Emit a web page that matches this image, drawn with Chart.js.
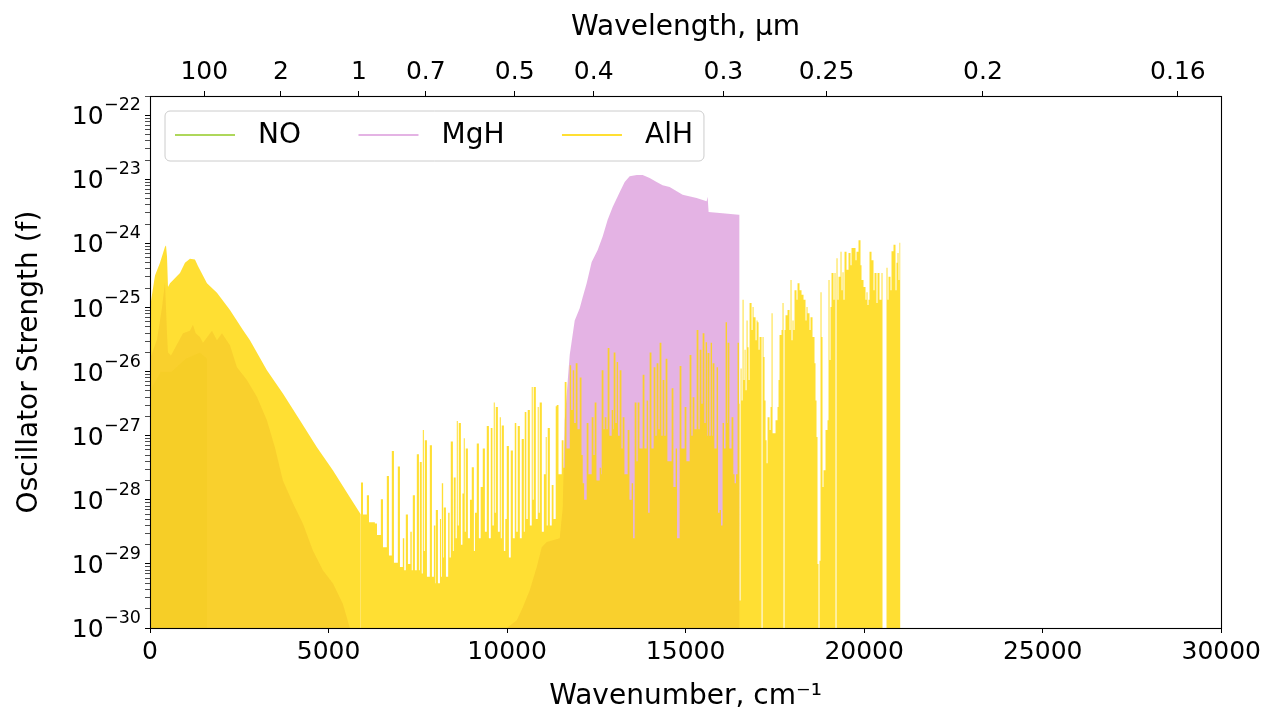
<!DOCTYPE html>
<html>
<head>
<meta charset="utf-8">
<script src="https://cdn.jsdelivr.net/npm/chart.js@4.4.1/dist/chart.umd.min.js"></script>
<style>
html,body{margin:0;padding:0;background:#fff;}
canvas{display:block;}
</style>
</head>
<body>
<canvas id="c" width="1265" height="714"></canvas>
<script>
// ---------------- data (wavenumber cm^-1, log10 of oscillator strength) ----------------
const bottomTicks = [0, 5000, 10000, 15000, 20000, 25000, 30000];
const topTickWavenumber = [1520, 3666, 5849, 7724, 10214, 12425, 16058, 18946, 23328, 28786];
const topTickLabels = ['100', '2', '1', '0.7', '0.5', '0.4', '0.3', '0.25', '0.2', '0.16'];
const yDecadeExponents = [-30, -29, -28, -27, -26, -25, -24, -23, -22];
const yMinorMultipliers = [2, 3, 4, 5, 6, 7, 8, 9];

const noPoints = [
  [0, -26.3], [300, -26.0], [600, -26.0], [1000, -25.8], [1400, -25.7], [1600, -25.8], [1600, -30]
];

const mghPoints = [
  [0, -25.8], [196, -25.5], [336, -25.0], [420, -24.6], [476, -25.4], [504, -25.7], [588, -25.75],
  [924, -25.40], [1119, -25.36], [1203, -25.27], [1280, -25.40], [1399, -25.46], [1483, -25.55],
  [1735, -25.36], [1875, -25.51], [2015, -25.40], [2239, -25.59], [2435, -25.93], [2715, -26.13],
  [2994, -26.39], [3274, -26.76], [3498, -27.18], [3722, -27.70], [4002, -28.05], [4282, -28.37],
  [4562, -28.79], [4842, -29.10], [5121, -29.30], [5401, -29.62], [5597, -30], [9991, -30],
  [10271, -29.88], [10438, -29.68], [10634, -29.41], [10830, -29.05], [10970, -28.74], [11110, -28.66],
  [11278, -28.63], [11474, -28.60], [11558, -28.12], [11614, -26.76], [11754, -25.74], [11894, -25.20],
  [12034, -25.01], [12117, -24.84], [12229, -24.62], [12369, -24.29], [12537, -24.10], [12677, -23.89],
  [12817, -23.63], [12957, -23.43], [13153, -23.20], [13293, -23.04], [13433, -22.95], [13629, -22.93],
  [13797, -22.93], [13993, -22.98], [14188, -23.04], [14356, -23.09], [14552, -23.12], [14916, -23.24],
  [15308, -23.29], [15588, -23.34], [15616, -23.27], [15644, -23.51], [16036, -23.53], [16484, -23.55],
  [16512, -23.55], [16512, -30]
];

const alhBandPoints = [
  [0, -25.0], [140, -24.5], [280, -24.3], [420, -24.05], [448, -24.03], [476, -24.2], [504, -24.68],
  [560, -24.62], [840, -24.46], [980, -24.3], [1119, -24.24], [1259, -24.25], [1343, -24.35],
  [1595, -24.62], [1875, -24.77], [2239, -25.04], [2603, -25.35], [2799, -25.51], [3274, -25.98],
  [3722, -26.34], [4198, -26.76], [4674, -27.18], [5121, -27.54], [5597, -27.96], [5905, -28.23],
  [5905, -30]
];

const alhLinePoints = [
  [5905, -27.73], [5965, -28.23], [6073, -27.93], [6133, -28.35], [6297, -28.37], [6357, -28.55],
  [6465, -27.99], [6525, -28.74], [6632, -27.63], [6692, -28.87], [6772, -27.24], [6832, -28.98],
  [6940, -27.48], [7000, -29.05], [7080, -28.6], [7120, -29.1], [7164, -28.23], [7224, -29.0],
  [7290, -28.5], [7330, -29.1], [7360, -27.93], [7420, -29.1], [7472, -27.29], [7532, -29.1],
  [7556, -27.41], [7610, -29.15], [7640, -26.91], [7670, -28.8], [7696, -27.07], [7756, -29.2],
  [7836, -27.15], [7896, -29.2], [7950, -28.4], [7990, -29.3], [8004, -28.16], [8064, -29.3],
  [8120, -28.3], [8150, -29.2], [8172, -27.74], [8210, -28.9], [8228, -28.12], [8288, -29.2],
  [8350, -28.2], [8390, -28.9], [8423, -27.09], [8483, -28.8], [8507, -27.65], [8560, -28.6],
  [8591, -26.77], [8620, -28.4], [8647, -26.80], [8707, -28.7], [8750, -27.9], [8787, -27.04],
  [8815, -28.5], [8843, -27.20], [8903, -28.6], [8960, -28.0], [9011, -27.49], [9071, -28.8],
  [9100, -28.2], [9151, -27.12], [9211, -28.6], [9260, -27.8], [9319, -27.20], [9379, -28.5],
  [9431, -26.85], [9491, -28.6], [9543, -26.88], [9590, -28.4], [9627, -26.48], [9655, -28.2],
  [9683, -26.55], [9743, -28.5], [9795, -26.71], [9825, -28.6], [9851, -26.84], [9911, -28.8],
  [9950, -28.3], [9991, -27.16], [10051, -28.9], [10103, -27.23], [10163, -28.6], [10215, -26.80],
  [10258, -28.5], [10298, -26.85], [10358, -28.6], [10410, -27.05], [10470, -28.5], [10494, -26.63],
  [10540, -28.3], [10578, -26.60], [10638, -28.4], [10690, -26.24], [10718, -28.0], [10746, -26.24],
  [10806, -28.3], [10858, -26.55], [10886, -28.2], [10914, -26.48], [10974, -28.5], [11030, -27.6],
  [11082, -27.02], [11110, -28.4], [11138, -26.88], [11198, -28.4], [11250, -27.77], [11300, -28.3],
  [11362, -26.54],
  [11390, -26.52], [11440, -27.6], [11530, -27.07], [11580, -27.5], [11614, -26.16], [11664, -27.2],
  [11754, -25.90], [11794, -26.6], [11838, -25.98], [11880, -26.8], [11922, -25.87], [11972, -26.9],
  [12034, -26.09], [12084, -27.3], [12118, -27.74], [12158, -28.0], [12229, -26.80], [12279, -27.6],
  [12369, -26.71], [12419, -27.3], [12453, -26.48], [12503, -27.7], [12593, -27.5], [12633, -27.6],
  [12649, -25.98], [12699, -26.9], [12733, -26.71], [12783, -26.9], [12817, -25.63], [12867, -27.0],
  [12929, -26.60], [12969, -26.9], [12985, -25.70], [13035, -26.8], [13069, -25.85], [13109, -27.0],
  [13153, -25.98], [13203, -27.2], [13237, -26.71], [13287, -27.6], [13377, -26.91], [13427, -28.0],
  [13489, -27.74], [13529, -28.6], [13573, -26.48], [13623, -27.4], [13657, -26.48], [13707, -27.2],
  [13797, -26.05], [13847, -27.2], [13909, -26.45], [13949, -28.2], [13993, -25.70], [14043, -27.2],
  [14104, -25.93], [14154, -27.0], [14188, -25.87], [14238, -26.9], [14272, -25.55], [14322, -27.0],
  [14356, -26.13], [14406, -27.0], [14440, -25.80], [14490, -27.4], [14608, -26.26], [14658, -27.8],
  [14720, -27.20], [14760, -28.6], [14832, -25.91], [14882, -27.2], [14972, -26.55], [15022, -27.4],
  [15112, -25.74], [15162, -27.0], [15196, -26.40], [15246, -26.9], [15308, -25.35], [15358, -26.9],
  [15392, -25.66], [15442, -26.5], [15476, -25.40], [15526, -26.8], [15560, -25.54], [15600, -27.0],
  [15616, -25.71], [15666, -27.0], [15700, -25.55], [15740, -27.0], [15756, -25.87], [15806, -27.2],
  [15868, -25.93], [15908, -28.2], [15951, -28.16], [15991, -28.4], [16035, -26.80], [16075, -27.2],
  [16119, -25.23], [16159, -26.8], [16175, -25.55], [16225, -27.2], [16287, -26.71], [16337, -27.6],
  [16371, -27.74], [16411, -27.6], [16455, -25.55], [16495, -26.5],
  [16511, -29.57], [16539, -25.95], [16567, -26.45], [16595, -24.88], [16623, -26.13], [16651, -25.66],
  [16679, -26.29], [16707, -25.20], [16735, -25.62], [16763, -26.13], [16791, -24.93], [16847, -25.35],
  [16875, -24.99], [16903, -25.15], [16959, -25.51], [16987, -25.20], [17015, -25.23], [17043, -25.66],
  [17071, -25.46], [17127, -30], [17155, -25.46], [17183, -25.77], [17211, -26.45], [17239, -27.07],
  [17267, -27.43], [17295, -26.71], [17351, -26.91], [17379, -26.55], [17407, -25.09], [17435, -26.96],
  [17463, -26.96], [17518, -26.76], [17546, -26.76], [17574, -26.55], [17602, -26.13], [17630, -25.43],
  [17686, -25.35], [17714, -24.93], [17742, -30], [17770, -25.35], [17798, -25.12], [17854, -25.04],
  [17910, -25.35], [17938, -24.57], [17966, -25.51], [17994, -25.20], [18022, -25.35], [18050, -24.73],
  [18106, -24.88], [18134, -24.62], [18190, -24.73], [18246, -24.80], [18302, -24.88], [18358, -25.20],
  [18386, -24.99], [18414, -25.09], [18470, -25.35], [18498, -25.15], [18554, -25.46], [18610, -25.87],
  [18638, -26.45], [18666, -27.02], [18694, -29.0], [18722, -30], [18750, -28.95], [18778, -24.76],
  [18806, -25.46], [18834, -27.80], [18862, -27.54], [18918, -26.91], [18974, -26.76], [19002, -24.57],
  [19030, -25.82], [19058, -24.99], [19086, -24.46], [19142, -24.88], [19170, -24.46], [19198, -30],
  [19226, -24.23], [19254, -24.88], [19282, -24.52], [19338, -24.13], [19366, -24.73], [19394, -24.45],
  [19422, -24.88], [19450, -24.13], [19506, -24.41], [19562, -24.15], [19618, -24.34], [19646, -24.07],
  [19702, -24.07], [19758, -24.26], [19786, -24.13], [19842, -23.95], [19898, -24.34], [19926, -24.57],
  [19982, -24.68], [20038, -24.88], [20066, -24.76], [20094, -24.96], [20122, -24.88], [20150, -24.13],
  [20206, -24.26], [20262, -24.73], [20290, -24.46], [20346, -24.93], [20374, -24.46], [20430, -24.88],
  [20486, -24.46], [20514, -30], [20598, -30], [20626, -24.38], [20654, -24.88], [20682, -24.52],
  [20738, -24.73], [20766, -24.12], [20822, -24.02], [20878, -24.73], [20906, -24.30], [20934, -24.15],
  [20962, -24.57], [20989, -23.99], [21017, -30]
];

// ---------------- chart ----------------
const FONT = '"DejaVu Sans", "Liberation Sans", sans-serif';
Chart.defaults.font.family = FONT;
Chart.defaults.color = '#000';

const colNO = 'rgba(154,205,50,0.8)';
const colMgH = 'rgba(221,160,221,0.8)';
const colAlH = 'rgba(255,215,0,0.8)';

const toPts = arr => arr.map(p => ({x: p[0], y: Math.pow(10, p[1])}));
const isDecade = v => { const l = Math.log10(v); return Math.abs(l - Math.round(l)) < 1e-6; };

const yTickValues = [];
yDecadeExponents.forEach(e => {
  yTickValues.push(Number('1e' + e));
  if (e < -22) yMinorMultipliers.forEach(m => yTickValues.push(Number(m + 'e' + e)));
});
yTickValues.push(Number('2e-22'));

const baseDs = {
  type: 'line', borderWidth: 0, borderColor: 'rgba(0,0,0,0)', pointRadius: 0,
  pointHoverRadius: 0, fill: 'start', tension: 0
};

const framePlugin = {
  id: 'frame',
  afterDatasetsDraw(chart) {
    const {ctx, chartArea: a} = chart;
    ctx.save();
    ctx.strokeStyle = '#000';
    ctx.lineWidth = 1.1;
    ctx.strokeRect(Math.round(a.left) + 0.5, Math.round(a.top) + 0.5,
      Math.round(a.right) - Math.round(a.left), Math.round(a.bottom) - Math.round(a.top));
    ctx.restore();
  }
};

// power-of-ten tick labels (base + superscript exponent), placed with the y scale
const powerLabels = {
  id: 'powerLabels',
  afterDraw(chart) {
    const s = chart.scales.y;
    const ctx = chart.ctx;
    ctx.save();
    ctx.fillStyle = '#000';
    ctx.textBaseline = 'alphabetic';
    ctx.textAlign = 'right';
    yDecadeExponents.forEach(e => {
      const y = s.getPixelForValue(Number('1e' + e));
      const expTxt = '\u2212' + String(-e);
      const xr = s.right - 9;
      ctx.font = '17.5px ' + FONT;
      ctx.fillText(expTxt, xr, y - 5);
      const w = ctx.measureText(expTxt).width;
      ctx.font = '25px ' + FONT;
      ctx.fillText('10', xr - w - 0.5, y + 9);
    });
    ctx.restore();
  }
};

const boxLegend = {
  id: 'boxLegend',
  afterDraw(chart) {
    const ctx = chart.ctx;
    const items = chart.data.datasets.filter(d => d.inLegend);
    ctx.save();
    ctx.font = '28px ' + FONT;
    const top = 111, h = 50, left = 165;
    const handle = 60, pad = 23, gap = 57.5;
    let x = 175;
    const xs = [];
    items.forEach(it => { xs.push(x); x += handle + pad + ctx.measureText(it.label).width + gap; });
    const right = x - gap + 11;
    const r = 5;
    ctx.beginPath();
    ctx.moveTo(left + r, top);
    ctx.lineTo(right - r, top);
    ctx.arcTo(right, top, right, top + r, r);
    ctx.lineTo(right, top + h - r);
    ctx.arcTo(right, top + h, right - r, top + h, r);
    ctx.lineTo(left + r, top + h);
    ctx.arcTo(left, top + h, left, top + h - r, r);
    ctx.lineTo(left, top + r);
    ctx.arcTo(left, top, left + r, top, r);
    ctx.closePath();
    ctx.fillStyle = 'rgba(255,255,255,0.8)';
    ctx.fill();
    ctx.strokeStyle = '#cccccc';
    ctx.lineWidth = 1;
    ctx.stroke();
    const cy = top + h / 2 - 1;
    items.forEach((it, i) => {
      ctx.strokeStyle = it.legendColor;
      ctx.lineWidth = 2.2;
      ctx.beginPath();
      ctx.moveTo(xs[i], cy);
      ctx.lineTo(xs[i] + handle, cy);
      ctx.stroke();
      ctx.fillStyle = '#000';
      ctx.textBaseline = 'middle';
      ctx.textAlign = 'left';
      ctx.fillText(it.label, xs[i] + handle + pad, cy + 1);
    });
    ctx.restore();
  }
};

new Chart(document.getElementById('c'), {
  type: 'line',
  data: {
    datasets: [
      Object.assign({}, baseDs, {label: 'NO', data: toPts(noPoints), backgroundColor: colNO, order: 4, inLegend: true, legendColor: colNO}),
      Object.assign({}, baseDs, {label: 'MgH', data: toPts(mghPoints), backgroundColor: colMgH, order: 3, inLegend: true, legendColor: colMgH}),
      Object.assign({}, baseDs, {label: 'AlH', data: toPts(alhBandPoints), backgroundColor: colAlH, order: 2, inLegend: true, legendColor: colAlH}),
      Object.assign({}, baseDs, {label: 'AlH lines', data: toPts(alhLinePoints), backgroundColor: colAlH, order: 1, stepped: true})
    ]
  },
  options: {
    responsive: false,
    animation: false,
    devicePixelRatio: 1,
    layout: {padding: {left: 0, right: 43, top: 0, bottom: 0}},
    plugins: {legend: {display: false}, tooltip: {enabled: false}},
    events: [],
    scales: {
      x: {
        type: 'linear', position: 'bottom', min: 0, max: 30000,
        afterBuildTicks: s => { s.ticks = bottomTicks.map(v => ({value: v})); },
        afterFit: s => { s.height = 86; },
        ticks: {autoSkip: false, maxRotation: 0, color: '#000', font: {size: 25}, padding: 4, callback: v => String(v)},
        grid: {drawOnChartArea: false, drawTicks: true, tickLength: 5, tickColor: '#000', tickWidth: 1},
        border: {display: true, color: '#000', width: 1},
        title: {display: true, text: 'Wavenumber, cm\u207B\u00B9', color: '#000', font: {size: 28}, padding: {top: 0, bottom: 0}}
      },
      x2: {
        type: 'linear', position: 'top', min: 0, max: 30000,
        afterBuildTicks: s => { s.ticks = topTickWavenumber.map(v => ({value: v})); },
        afterFit: s => { s.height = 96; },
        ticks: {autoSkip: false, maxRotation: 0, color: '#000', font: {size: 25}, padding: 4, callback: (v, i) => topTickLabels[i]},
        grid: {drawOnChartArea: false, drawTicks: true, tickLength: 5, tickColor: '#000', tickWidth: 1},
        border: {display: true, color: '#000', width: 1},
        title: {display: true, text: 'Wavelength, \u03BCm', color: '#000', font: {size: 28}, padding: {top: 11, bottom: 0}}
      },
      y: {
        type: 'logarithmic', position: 'left', min: 1e-30, max: 2e-22,
        afterBuildTicks: s => { s.ticks = yTickValues.map(v => ({value: v})); },
        afterFit: s => { s.width = 150; },
        ticks: {autoSkip: false, color: '#000', font: {size: 25}, padding: 5, callback: () => ''},
        grid: {drawOnChartArea: false, drawTicks: true, tickLength: 5, tickColor: '#000',
          tickWidth: ctx => (ctx.tick && isDecade(ctx.tick.value)) ? 1 : 0.7},
        border: {display: true, color: '#000', width: 1},
        title: {display: true, text: 'Oscillator Strength (f)', color: '#000', font: {size: 28}, padding: {top: 13, bottom: 0}}
      }
    }
  },
  plugins: [framePlugin, powerLabels, boxLegend]
});
</script>
</body>
</html>
